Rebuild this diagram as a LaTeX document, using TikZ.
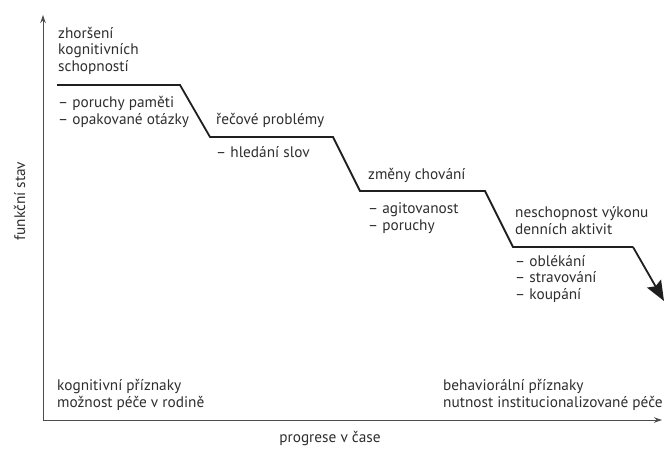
\documentclass[tikz,border=0pt]{standalone}
\usepackage{fontspec}
\setmainfont{PT Sans}
\usetikzlibrary{arrows.meta}
\begin{document}
\begin{tikzpicture}[x=1pt,y=-1pt,
  lbl/.style={anchor=base west,inner sep=0pt,font=\fontsize{15.3}{16.5}\selectfont,text=black!82,align=left},
  axis/.style={draw=black!70,line width=0.9pt,-{Stealth[length=8pt,width=5.5pt]}},
  stairs/.style={draw=black!88,line width=1.8pt,line join=miter}]
\useasboundingbox (0,0) rectangle (666,450);
% axes
\coordinate (o) at (43,420);
\coordinate (ytop) at (43,15);
\coordinate (xend) at (662,420);
\draw[axis] (o) -- (ytop);
\draw[axis] (o) -- (xend);
% staircase
\coordinate (s0) at (57,85);
\coordinate (s1) at (180,85);
\coordinate (s2) at (210,137);
\coordinate (s3) at (333,137);
\coordinate (s4) at (360,191);
\coordinate (s5) at (485,191);
\coordinate (s6) at (513,247);
\coordinate (s7) at (633,247);
\coordinate (s8) at (664,301);
\draw[stairs] (s0) -- (s1) -- (s2) -- (s3) -- (s4) -- (s5) -- (s6) -- (s7);
\draw[stairs,-{Stealth[length=20pt,width=16pt,inset=3pt]}] (s7) -- (s8);
% labels (base = last line)
\node[lbl] (t1) at (58,71) {zhoršení\\kognitivních\\schopností};
\node[lbl] (t1b) at (58,124) {– poruchy paměti\\– opakované otázky};
\node[lbl] (t2) at (216,124) {řečové problémy};
\node[lbl] (t2b) at (216,157) {– hledání slov};
\node[lbl] (t3) at (368,179) {změny chování};
\node[lbl] (t3b) at (368,230) {– agitovanost\\– poruchy};
\node[lbl] (t4) at (515,234) {neschopnost výkonu\\denních aktivit};
\node[lbl] (t4b) at (515,299) {– oblékání\\– stravování\\– koupání};
\node[lbl] (b1) at (57,407) {kognitivní příznaky\\možnost péče v rodině};
\node[lbl] (b2) at (443,407) {behaviorální příznaky\\nutnost institucionalizované péče};
\node[anchor=base,inner sep=0pt,font=\fontsize{15.3}{16.5}\selectfont,text=black!82] (xl) at (330,442) {progrese v čase};
\node[anchor=base,inner sep=0pt,font=\fontsize{15.3}{16.5}\selectfont,text=black!82,rotate=90] (yl) at (25,201) {funkční stav};
\end{tikzpicture}
\end{document}
